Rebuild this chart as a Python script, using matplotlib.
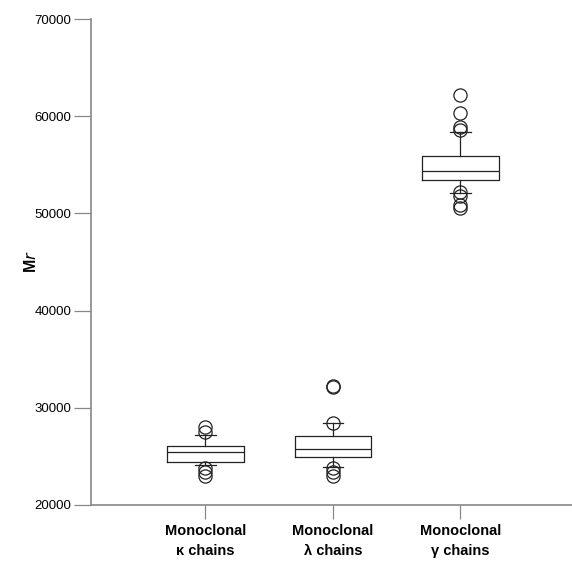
import matplotlib.pyplot as plt

# summary statistics of each chain group (molecular mass, Mr)
groups = ['Monoclonal\n\u03ba chains', 'Monoclonal\n\u03bb chains', 'Monoclonal\n\u03b3 chains']
medians = [25480, 25760, 54400]
q1s = [24450, 24900, 53450]
q3s = [26100, 27100, 55950]
whis_lo = [24120, 23940, 52070]
whis_hi = [27200, 28400, 58400]
outliers = [
    [28050, 27540, 23770, 23360, 22950],
    [32100, 32250, 28480, 23800, 23430, 22980],
    [62200, 60300, 58920, 58600, 52230, 51800, 50900, 50600],
]

stats = []
for i in range(len(groups)):
    stats.append({'med': medians[i], 'q1': q1s[i], 'q3': q3s[i],
                  'whislo': whis_lo[i], 'whishi': whis_hi[i],
                  'fliers': outliers[i]})

plt.rcParams['font.family'] = ['Liberation Sans', 'DejaVu Sans']

fig = plt.figure(figsize=(5.72, 5.61), dpi=100)
ax = fig.add_axes([0.159, 0.1, 0.841, 0.866])

line = dict(color='#222222', linewidth=0.9)
ax.bxp(stats, positions=[1, 2, 3], widths=0.6, capwidths=[0.16] * 3,
       boxprops=line, whiskerprops=line, capprops=line, medianprops=line,
       flierprops=dict(marker='o', markersize=9.5, markerfacecolor='none',
                       markeredgecolor='#222222', markeredgewidth=0.9))

ax.set_xlim(0.102, 3.875)
ax.set_ylim(20000, 70000)
ax.set_yticks(range(20000, 70001, 10000))
ax.set_xticks([1, 2, 3])
ax.set_xticklabels(groups, fontsize=10.5, fontweight='bold', linespacing=1.5)
ax.tick_params(axis='y', labelsize=9.5, length=12, width=0.9, color='#888888', pad=2)
ax.tick_params(axis='x', length=10, width=0.9, color='#888888', pad=4)

for side in ['top', 'right']:
    ax.spines[side].set_visible(False)
for side in ['left', 'bottom']:
    ax.spines[side].set_color('#888888')
    ax.spines[side].set_linewidth(1.2)

ax.set_ylabel('M$\\bf{\\it{r}}$', fontsize=11.5, fontweight='bold')
ax.yaxis.set_label_coords(-0.108, 0.5)

fig.savefig('out.png', dpi=100)
